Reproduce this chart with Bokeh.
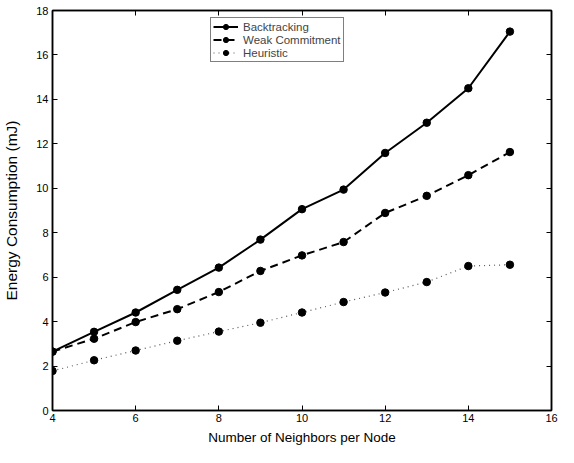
from bokeh.plotting import figure
from bokeh.models import LinearAxis, Range1d, FixedTicker, Legend, LegendItem
from bokeh.embed import file_html
from bokeh.resources import INLINE

neighbors = [4, 5, 6, 7, 8, 9, 10, 11, 12, 13, 14, 15]
backtracking = [2.65, 3.54, 4.41, 5.43, 6.43, 7.69, 9.06, 9.94, 11.59, 12.95, 14.5, 17.05]
weak_commitment = [2.65, 3.23, 3.98, 4.56, 5.33, 6.28, 6.98, 7.58, 8.89, 9.66, 10.59, 11.63]
heuristic = [1.78, 2.26, 2.7, 3.14, 3.55, 3.95, 4.41, 4.88, 5.31, 5.78, 6.5, 6.56]
x_ticks = [4, 6, 8, 10, 12, 14, 16]
y_ticks = [0, 2, 4, 6, 8, 10, 12, 14, 16, 18]

FONT = "Liberation Sans"

p = figure(width=558, height=447, output_backend="svg", toolbar_location=None,
           x_range=Range1d(4, 16), y_range=Range1d(0, 18),
           min_border_left=52, min_border_right=7, min_border_top=10, min_border_bottom=37)
p.grid.visible = False
p.outline_line_color = "black"
p.outline_line_width = 1.5
p.background_fill_color = "white"
p.border_fill_color = "white"

def style_axis(ax, labels=True):
    ax.major_tick_in = 5
    ax.major_tick_out = 0
    ax.minor_tick_line_color = None
    ax.axis_line_color = "black"
    ax.axis_line_width = 1.5
    ax.major_tick_line_color = "black"
    ax.major_label_text_font = FONT
    ax.major_label_text_font_size = "11px"
    ax.major_label_text_color = "black" if labels else None
    ax.axis_label_text_font = FONT
    ax.axis_label_text_font_style = "normal"
    ax.axis_label_text_color = "black"

p.xaxis.ticker = FixedTicker(ticks=x_ticks)
p.yaxis.ticker = FixedTicker(ticks=y_ticks)
p.xaxis.axis_label = "Number of Neighbors per Node"
p.yaxis.axis_label = "Energy Consumption (mJ)"
style_axis(p.xaxis[0])
style_axis(p.yaxis[0])
p.xaxis.axis_label_text_font_size = "13.5px"
p.yaxis.axis_label_text_font_size = "15.5px"
p.xaxis.major_label_standoff = 3
p.yaxis.major_label_standoff = 4
p.xaxis.axis_label_standoff = 5
p.yaxis.axis_label_standoff = 13

top = LinearAxis(ticker=FixedTicker(ticks=x_ticks))
right = LinearAxis(ticker=FixedTicker(ticks=y_ticks))
style_axis(top, labels=False)
style_axis(right, labels=False)
top.major_label_text_font_size = "0px"
right.major_label_text_font_size = "0px"
top.major_label_standoff = 0
right.major_label_standoff = 0
p.add_layout(top, "above")
p.add_layout(right, "right")

l1 = p.line(neighbors, backtracking, line_color="black", line_width=2)
s1 = p.scatter(neighbors, backtracking, size=7.5, color="black")
l2 = p.line(neighbors, weak_commitment, line_color="black", line_width=2, line_dash="8 5")
s2 = p.scatter(neighbors, weak_commitment, size=7.5, color="black")
l3 = p.line(neighbors, heuristic, line_color="#555555", line_width=1.2, line_dash="1 4")
s3 = p.scatter(neighbors, heuristic, size=7.5, color="black")

legend = Legend(items=[
    LegendItem(label="Backtracking", renderers=[l1, s1]),
    LegendItem(label="Weak Commitment", renderers=[l2, s2]),
    LegendItem(label="Heuristic", renderers=[l3, s3]),
], location=(158, 348))
legend.label_text_font = FONT
legend.label_text_font_size = "11.5px"
legend.label_height = 13
legend.glyph_height = 13
legend.glyph_width = 25
legend.spacing = 0
legend.padding = 2
legend.margin = 0
legend.label_standoff = 5
legend.border_line_color = "black"
legend.border_line_width = 1
legend.background_fill_alpha = 1
p.add_layout(legend, "center")

open("out.html", "w").write(file_html(p, INLINE))
